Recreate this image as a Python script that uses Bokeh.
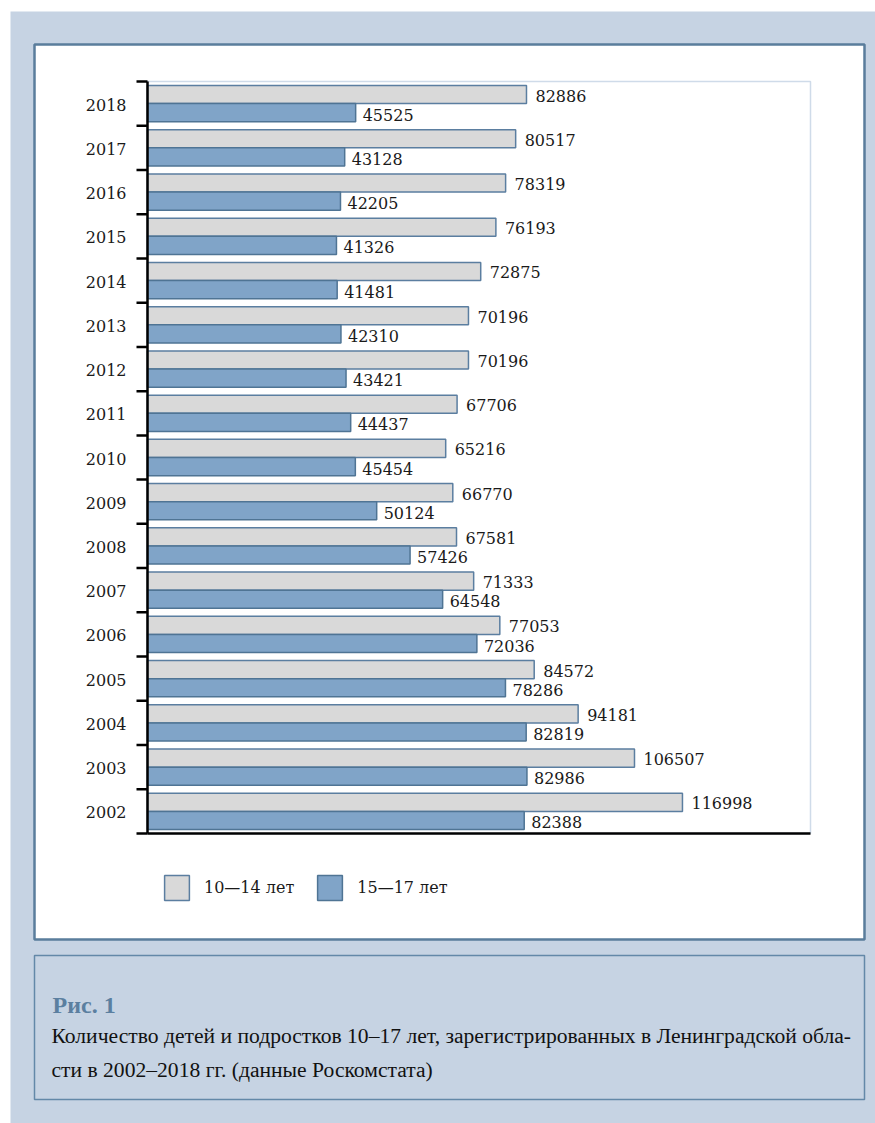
from bokeh.plotting import figure
from bokeh.models import (ColumnDataSource, Range1d, BoxAnnotation, Label,
                          Legend, LegendItem)
from bokeh.transform import dodge
from bokeh.core.properties import value
from bokeh.embed import file_html
from bokeh.resources import INLINE

# ---------------- data ----------------
years = [2002, 2003, 2004, 2005, 2006, 2007, 2008, 2009, 2010,
         2011, 2012, 2013, 2014, 2015, 2016, 2017, 2018]
age_10_14 = [116998, 106507, 94181, 84572, 77053, 71333, 67581, 66770, 65216,
             67706, 70196, 70196, 72875, 76193, 78319, 80517, 82886]
age_15_17 = [82388, 82986, 82819, 78286, 72036, 64548, 57426, 50124, 45454,
             44437, 43421, 42310, 41481, 41326, 42205, 43128, 45525]
series_names = ["10\u201414 \u043b\u0435\u0442", "15\u201417 \u043b\u0435\u0442"]
caption_title = "\u0420\u0438\u0441. 1"
caption_lines = [
    "\u041a\u043e\u043b\u0438\u0447\u0435\u0441\u0442\u0432\u043e \u0434\u0435\u0442\u0435\u0439 \u0438 \u043f\u043e\u0434\u0440\u043e\u0441\u0442\u043a\u043e\u0432 10\u201317 \u043b\u0435\u0442, \u0437\u0430\u0440\u0435\u0433\u0438\u0441\u0442\u0440\u0438\u0440\u043e\u0432\u0430\u043d\u043d\u044b\u0445 \u0432 \u041b\u0435\u043d\u0438\u043d\u0433\u0440\u0430\u0434\u0441\u043a\u043e\u0439 \u043e\u0431\u043b\u0430-",
    "\u0441\u0442\u0438 \u0432 2002\u20132018 \u0433\u0433. (\u0434\u0430\u043d\u043d\u044b\u0435 \u0420\u043e\u0441\u043a\u043e\u043c\u0441\u0442\u0430\u0442\u0430)",
]
X_MAX = 145000  # value axis maximum

# ---------------- styles / layout ----------------
PAGE_BG = "#c6d3e3"
PANEL_LINE = "#5a7d9c"
GRAY_FILL = "#d9d9d9"
GRAY_LINE = "#5b7ea0"
BLUE_FILL = "#80a4c8"
BLUE_LINE = "#4f7494"
NUM_FONT = "DejaVu Serif"
CAP_FONT = "Liberation Serif"
TXT = "#1a1a1a"

W, H = 875, 1123
PX0, PX1 = 147, 810          # plot-area left / right (pixels)
PY_TOP, PY_BOT = 81, 833     # plot-area top / bottom (pixels)

y_lo, y_hi = years[0] - 0.5, years[-1] + 0.5
sx = (PX1 - PX0) / X_MAX
sy = (PY_BOT - PY_TOP) / (y_hi - y_lo)


def xv(px):
    return (px - PX0) / sx


def yv(py):
    return y_lo + (PY_BOT - py) / sy


src = ColumnDataSource(dict(
    year=years,
    a=age_10_14,
    b=age_15_17,
    a_txt=[str(v) for v in age_10_14],
    b_txt=[str(v) for v in age_15_17],
    ylab=[str(y) for y in years],
))

p = figure(width=W, height=H,
           x_range=Range1d(xv(0), xv(W)), y_range=Range1d(yv(H), yv(0)),
           output_backend="svg", toolbar_location=None,
           x_axis_location=None, y_axis_location=None, min_border=0,
           background_fill_color="white", border_fill_color="white",
           outline_line_color=None)
p.xgrid.visible = False
p.ygrid.visible = False


def box(l, r, t, b, **kw):
    return BoxAnnotation(left=xv(l), right=xv(r), top=yv(t), bottom=yv(b),
                         level="underlay", **kw)


# page background, panel, caption box, plot-area frame
p.add_layout(box(10, W + 5, 11, H + 5, fill_color=PAGE_BG, fill_alpha=1, line_alpha=0))
p.add_layout(box(34, 864, 44, 939, fill_color="white", fill_alpha=1,
                 line_color=PANEL_LINE, line_alpha=1, line_width=2.5))
p.add_layout(box(34, 864, 955, 1099, fill_alpha=0,
                 line_color="#6388a8", line_alpha=1, line_width=1.5))
p.add_layout(BoxAnnotation(left=0, right=X_MAX, bottom=y_lo, top=y_hi,
                           fill_alpha=0, line_color="#cfdbe9", line_alpha=1,
                           line_width=1.5, level="underlay"))

# bars
r1 = p.hbar(y=dodge("year", 0.205), left=0, right="a", height=0.41, source=src,
            fill_color=GRAY_FILL, line_color=GRAY_LINE, line_width=1.5)
r2 = p.hbar(y=dodge("year", -0.205), left=0, right="b", height=0.41, source=src,
            fill_color=BLUE_FILL, line_color=BLUE_LINE, line_width=1.5)

# value labels
p.text(x="a", y=dodge("year", 0.205), text="a_txt", source=src,
       x_offset=9, y_offset=1, text_baseline="middle", text_align="left",
       text_font=value(NUM_FONT), text_font_size="16px", text_color=TXT)
p.text(x="b", y=dodge("year", -0.205), text="b_txt", source=src,
       x_offset=7, y_offset=2, text_baseline="middle", text_align="left",
       text_font=value(NUM_FONT), text_font_size="16px", text_color=TXT)

# category axis (years) and value axis line
bounds = [y - 0.5 for y in years] + [years[-1] + 0.5]
p.segment(x0=[0], y0=[y_lo], x1=[0], y1=[y_hi], line_color="black", line_width=2.5)
p.segment(x0=[0], y0=[y_lo], x1=[X_MAX], y1=[y_lo], line_color="black", line_width=2.5)
p.segment(x0=[0] * len(bounds), y0=bounds, x1=[xv(PX0 - 11)] * len(bounds), y1=bounds,
          line_color="black", line_width=2.5)
p.text(x=0, y="year", text="ylab", source=src, x_offset=-21, y_offset=1,
       text_align="right", text_baseline="middle",
       text_font=value(NUM_FONT), text_font_size="16px", text_color=TXT)

# legend
legend = Legend(items=[LegendItem(label=series_names[0], renderers=[r1]),
                       LegendItem(label=series_names[1], renderers=[r2])],
                location=(161, H - 903), orientation="horizontal",
                glyph_width=31, glyph_height=31, label_standoff=12, spacing=20,
                padding=0, margin=0, border_line_alpha=0,
                background_fill_alpha=0,
                label_text_font=NUM_FONT, label_text_font_size="16px",
                label_text_color=TXT)
p.add_layout(legend)

# caption
p.add_layout(Label(x=xv(52), y=yv(1004), text=caption_title, text_font=CAP_FONT,
                   text_font_size="24px", text_font_style="bold",
                   text_color="#5b7fa0", text_baseline="alphabetic"))
p.add_layout(Label(x=xv(51), y=yv(1035), text=caption_lines[0], text_font=CAP_FONT,
                   text_font_size="21.6px", text_color="#111111",
                   text_baseline="alphabetic"))
p.add_layout(Label(x=xv(51), y=yv(1069), text=caption_lines[1], text_font=CAP_FONT,
                   text_font_size="21.6px", text_color="#111111",
                   text_baseline="alphabetic"))

open("out.html", "w").write(file_html(p, INLINE))
